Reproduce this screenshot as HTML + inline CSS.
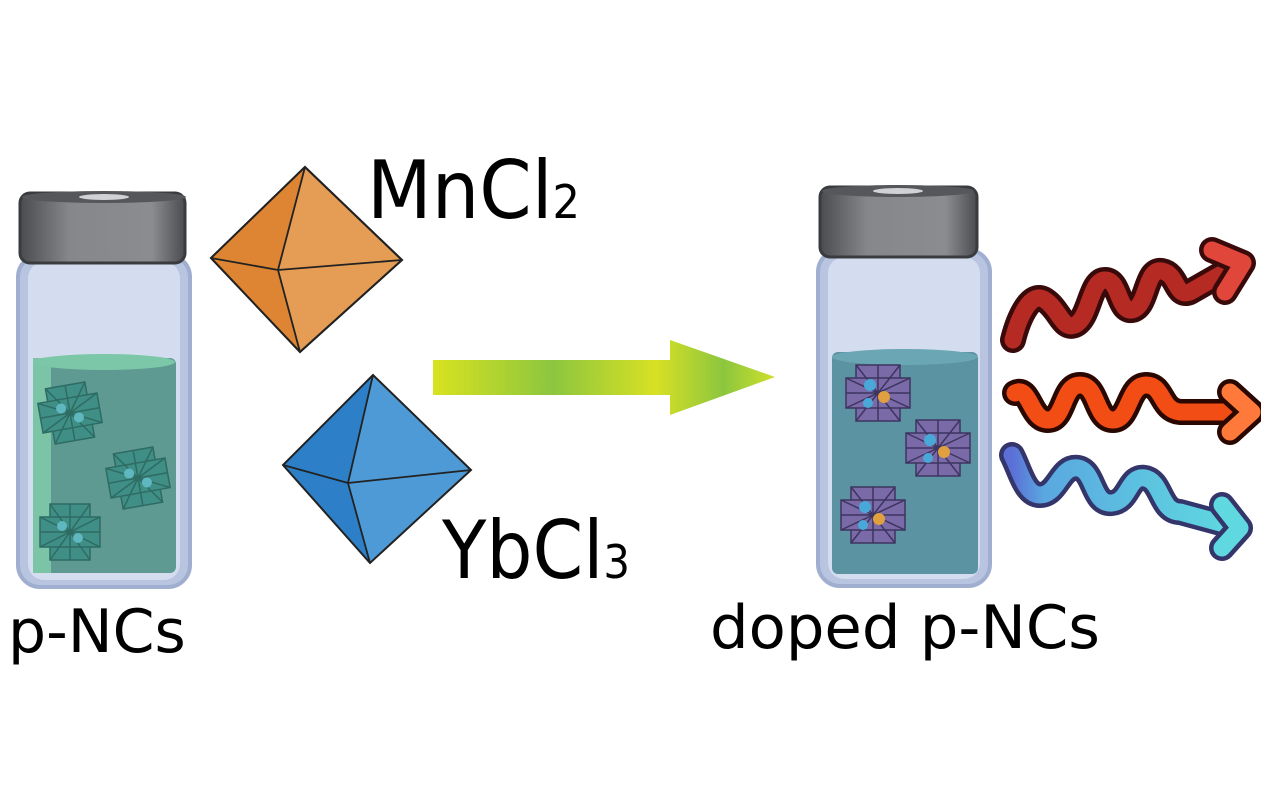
<!DOCTYPE html>
<html><head><style>
html,body{margin:0;padding:0;background:#fff;}
svg{display:block;}
text{font-family:"DejaVu Sans","Liberation Sans",sans-serif;fill:#000;}
</style></head><body>
<svg width="1261" height="797" viewBox="0 0 1261 797" xmlns="http://www.w3.org/2000/svg">
<defs>
<linearGradient id="ag" x1="0" x2="1" y1="0" y2="0">
<stop offset="0" stop-color="#d9e21f"/><stop offset="0.35" stop-color="#8cc63f"/><stop offset="0.65" stop-color="#d8e024"/><stop offset="0.85" stop-color="#8cc63f"/><stop offset="1" stop-color="#cfe02a"/></linearGradient>
<linearGradient id="cap" x1="0" x2="1"><stop offset="0" stop-color="#4a4c50"/><stop offset="0.3" stop-color="#85878b"/><stop offset="0.8" stop-color="#8a8c90"/><stop offset="1" stop-color="#4a4c50"/></linearGradient>
<linearGradient id="bl" x1="0" x2="1"><stop offset="0" stop-color="#5b6fd6"/><stop offset="0.15" stop-color="#5aa8e0"/><stop offset="1" stop-color="#5fd8e0"/></linearGradient>
<g id="crys" stroke="#2e6b63" stroke-width="1.5" fill="#4a9d92">
<rect x="-20" y="-28" width="40" height="56" fill="#3f8f86"/>
<rect x="-30" y="-15" width="60" height="30" fill="#3f8f86"/>
<path d="M-20-28L20 28M20-28L-20 28M-30-15L30 15M30-15L-30 15M0-28V28M-30 0H30" fill="none"/>
<circle cx="-8" cy="-6" r="5" fill="#5fb7c0" stroke="none"/><circle cx="8" cy="6" r="5" fill="#5fb7c0" stroke="none"/>
</g>
<g id="crys2" stroke="#3d3560" stroke-width="1.5" fill="#7a6aa8">
<rect x="-22" y="-28" width="44" height="56"/>
<rect x="-32" y="-15" width="64" height="30"/>
<path d="M-22-28L22 28M22-28L-22 28M-32-15L32 15M32-15L-32 15M0-28V28M-32 0H32" fill="none"/>
<circle cx="-8" cy="-8" r="6" fill="#4aa8d8" stroke="none"/><circle cx="6" cy="4" r="6" fill="#e0a040" stroke="none"/><circle cx="-10" cy="10" r="5" fill="#4aa8d8" stroke="none"/>
</g>
</defs>

<rect x="18" y="255" width="172" height="332" rx="22" fill="#b8c4e0" stroke="#a0aed0" stroke-width="4"/>
<rect x="28" y="262" width="152" height="318" rx="16" fill="#d4dcef"/>
<rect x="33" y="358" width="143" height="215" rx="6" fill="#5e9a92"/>
<rect x="33" y="358" width="18" height="215" fill="#7bc4a6"/>
<ellipse cx="104" cy="362" rx="71" ry="8" fill="#7bc7a8"/>
<use href="#crys" transform="translate(70,413) rotate(-10)"/>
<use href="#crys" transform="translate(138,478) rotate(-10)"/>
<use href="#crys" transform="translate(70,532)"/>
<rect x="20" y="193" width="165" height="70" rx="10" fill="url(#cap)" stroke="#3a3b3e" stroke-width="3"/>
<ellipse cx="104" cy="197" rx="82" ry="6" fill="#55575a"/>
<ellipse cx="104" cy="197" rx="25" ry="3" fill="#d0d2d6"/>

<rect x="818" y="250" width="172" height="336" rx="22" fill="#b8c4e0" stroke="#a0aed0" stroke-width="4"/>
<rect x="828" y="257" width="152" height="322" rx="16" fill="#d4dcef"/>
<rect x="832" y="352" width="146" height="222" rx="6" fill="#5b93a3"/>
<ellipse cx="905" cy="357" rx="73" ry="8" fill="#6aa6b3"/>
<use href="#crys2" transform="translate(878,393)"/>
<use href="#crys2" transform="translate(938,448)"/>
<use href="#crys2" transform="translate(873,515)"/>
<rect x="820" y="187" width="157" height="70" rx="10" fill="url(#cap)" stroke="#3a3b3e" stroke-width="3"/>
<ellipse cx="898" cy="191" rx="76" ry="6" fill="#55575a"/>
<ellipse cx="898" cy="191" rx="25" ry="3" fill="#d0d2d6"/>

<polygon points="305,167 211,258 300,352 402,260" fill="#e59c55" stroke="#222" stroke-width="2"/>
<polygon points="305,167 211,258 300,352 278,270" fill="#de8533"/>
<path d="M305,167L278,270L300,352M211,258L278,270L402,260" fill="none" stroke="#222" stroke-width="1.8"/>
<polygon points="305,167 211,258 300,352 402,260" fill="none" stroke="#222" stroke-width="2"/>
<polygon points="373,375 283,465 370,563 471,470" fill="#4e9ad6"/>
<polygon points="373,375 283,465 370,563 348,483" fill="#2d80c8"/>
<path d="M373,375L348,483L370,563M283,465L348,483L471,470" fill="none" stroke="#222" stroke-width="1.8"/>
<polygon points="373,375 283,465 370,563 471,470" fill="none" stroke="#222" stroke-width="2"/>

<polygon points="433,360 670,360 670,340 775,377 670,415 670,395 433,395" fill="url(#ag)"/>

<g fill="none" stroke-linecap="round" stroke-linejoin="round">
<path d="M1013,340 C1018,320 1030,290 1045,300 C1060,310 1062,330 1075,325 C1090,318 1090,280 1105,280 C1120,280 1118,312 1132,310 C1148,307 1145,268 1162,271 C1178,274 1175,298 1190,292 L1232,268" stroke="#3a0a0a" stroke-width="26"/>
<path d="M1013,340 C1018,320 1030,290 1045,300 C1060,310 1062,330 1075,325 C1090,318 1090,280 1105,280 C1120,280 1118,312 1132,310 C1148,307 1145,268 1162,271 C1178,274 1175,298 1190,292 L1232,268" stroke="#b52a22" stroke-width="17"/>
<path d="M1212,250 L1243,263 L1225,292" stroke="#3a0a0a" stroke-width="26"/>
<path d="M1212,250 L1243,263 L1225,292" stroke="#e0473a" stroke-width="17"/>

<path d="M1015,393 C1030,385 1030,420 1048,420 C1065,420 1062,385 1080,385 C1098,385 1095,420 1113,420 C1130,420 1128,385 1146,385 C1164,385 1160,410 1180,412 L1238,412" stroke="#2a0800" stroke-width="26"/>
<path d="M1015,393 C1030,385 1030,420 1048,420 C1065,420 1062,385 1080,385 C1098,385 1095,420 1113,420 C1130,420 1128,385 1146,385 C1164,385 1160,410 1180,412 L1238,412" stroke="#f24d14" stroke-width="17"/>
<path d="M1230,392 L1252,412 L1230,432" stroke="#2a0800" stroke-width="26"/>
<path d="M1230,392 L1252,412 L1230,432" stroke="#ff7a3a" stroke-width="17"/>

<path d="M1012,455 C1020,470 1025,495 1040,495 C1058,495 1060,465 1078,468 C1095,471 1092,505 1112,503 C1130,501 1128,475 1145,478 C1162,481 1160,512 1180,512 L1228,525" stroke="#33356b" stroke-width="26"/>
<path d="M1012,455 C1020,470 1025,495 1040,495 C1058,495 1060,465 1078,468 C1095,471 1092,505 1112,503 C1130,501 1128,475 1145,478 C1162,481 1160,512 1180,512 L1228,525" stroke="url(#bl)" stroke-width="17"/>
<path d="M1222,505 L1240,528 L1222,548" stroke="#33356b" stroke-width="26"/>
<path d="M1222,505 L1240,528 L1222,548" stroke="#5fd8e0" stroke-width="17"/>
</g>

<text x="367" y="218" font-size="80" textLength="213" lengthAdjust="spacingAndGlyphs">MnCl<tspan font-size="46">2</tspan></text>
<text x="442" y="578" font-size="80" textLength="188" lengthAdjust="spacingAndGlyphs">YbCl<tspan font-size="46">3</tspan></text>
<text x="8" y="652" font-size="60">p-NCs</text>
<text x="710" y="648" font-size="60" textLength="390" lengthAdjust="spacingAndGlyphs">doped p-NCs</text>
</svg>
</body></html>
